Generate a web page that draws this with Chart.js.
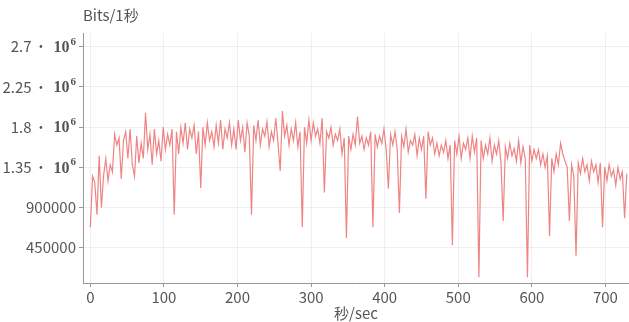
<!DOCTYPE html>
<html><head><meta charset="utf-8">
<script src="https://cdn.jsdelivr.net/npm/chart.js@4/dist/chart.umd.min.js"></script>
<style>html,body{margin:0;padding:0;background:#fff}#wrap{width:629px;height:322px;position:relative}</style>
</head><body><div id="wrap"><canvas id="c"></canvas></div>
<script>
const seconds = [0,3,6,9,12,15,18,21,24,27,30,33,36,39,42,45,48,51,54,57,60,63,66,69,72,75,78,81,84,87,90,93,96,99,102,105,108,111,114,117,120,123,126,129,132,135,138,141,144,147,150,153,156,159,162,165,168,171,174,177,180,183,186,189,192,195,198,201,204,207,210,213,216,219,222,225,228,231,234,237,240,243,246,249,252,255,258,261,264,267,270,273,276,279,282,285,288,291,294,297,300,303,306,309,312,315,318,321,324,327,330,333,336,339,342,345,348,351,354,357,360,363,366,369,372,375,378,381,384,387,390,393,396,399,402,405,408,411,414,417,420,423,426,429,432,435,438,441,444,447,450,453,456,459,462,465,468,471,474,477,480,483,486,489,492,495,498,501,504,507,510,513,516,519,522,525,528,531,534,537,540,543,546,549,552,555,558,561,564,567,570,573,576,579,582,585,588,591,594,597,600,603,606,609,612,615,618,621,624,627,630,633,636,639,642,645,648,651,654,657,660,663,666,669,672,675,678,681,684,687,690,693,696,699,702,705,708,711,714,717,720,723,726,729];
const bits = [680000,1250000,1180000,820000,1480000,900000,1260000,1450000,1200000,1380000,1300000,1720000,1600000,1680000,1220000,1650000,1750000,1450000,1780000,1380000,1250000,1700000,1400000,1620000,1450000,1960000,1550000,1720000,1380000,1780000,1500000,1650000,1420000,1800000,1550000,1720000,1600000,1780000,820000,1750000,1500000,1800000,1620000,1850000,1550000,1780000,1680000,1820000,1500000,1750000,1120000,1800000,1600000,1850000,1650000,1750000,1580000,1820000,1620000,1880000,1550000,1780000,1680000,1850000,1600000,1780000,1550000,1880000,1650000,1800000,1520000,1850000,1700000,820000,1820000,1650000,1880000,1600000,1780000,1700000,1860000,1580000,1750000,1650000,1900000,1620000,1310000,1980000,1700000,1820000,1600000,1780000,1650000,1850000,1580000,1750000,680000,1800000,1620000,1880000,1650000,1850000,1700000,1780000,1620000,1900000,1070000,1750000,1680000,1800000,1600000,1720000,1650000,1780000,1500000,1680000,560000,1700000,1550000,1720000,1600000,1920000,1620000,1700000,1550000,1680000,1600000,1750000,680000,1720000,1580000,1700000,1620000,1780000,1550000,1110000,1720000,1600000,1750000,1550000,840000,1700000,1580000,1780000,1520000,1650000,1600000,1720000,1480000,1680000,1550000,1700000,1000000,1750000,1600000,1680000,1500000,1620000,1480000,1600000,1520000,1650000,1450000,1600000,480000,1650000,1500000,1700000,1450000,1620000,1550000,1680000,1450000,1700000,1520000,1680000,120000,1650000,1450000,1600000,1500000,1680000,1420000,1600000,1500000,1650000,1400000,750000,1580000,1450000,1620000,1480000,1560000,1420000,1650000,1400000,1580000,1450000,120000,1600000,1420000,1550000,1450000,1550000,1380000,1500000,1350000,1480000,580000,1450000,1300000,1500000,1380000,1620000,1500000,1420000,1350000,750000,1380000,1250000,360000,1400000,1280000,1450000,1300000,1380000,1200000,1420000,1300000,1380000,1180000,1400000,680000,1350000,1200000,1380000,1250000,1320000,1150000,1350000,1220000,1300000,780000,1280000];
const yTicks = [450000, 900000, 1350000, 1800000, 2250000, 2700000];
const yTickMantissa = ['450000', '900000', '1.35', '1.8', '2.25', '2.7'];
const yTickHasPower = [false, false, true, true, true, true];
const xTicks = [0, 100, 200, 300, 400, 500, 600, 700];
const yTitle = 'Bits/1秒';
const xTitle = '秒/sec';

const FONT = "'Noto Sans CJK JP', 'Noto Sans', sans-serif";
const SERIF_B = "'Liberation Serif', serif";
const TXT = '#555';
const points = seconds.map((s, i) => ({x: s, y: bits[i]}));

const labelPlugin = {
  id: 'labels',
  afterDraw(chart) {
    const ctx = chart.ctx;
    const ys = chart.scales.y;
    ctx.save();
    ctx.fillStyle = TXT;
    ctx.textBaseline = 'middle';
    ctx.textAlign = 'left';
    ctx.font = "15px " + FONT;
    ctx.fillText(yTitle, chart.chartArea.left, 15);
    const right = chart.chartArea.left - 7;
    yTicks.forEach((v, i) => {
      const y = ys.getPixelForValue(v);
      if (!yTickHasPower[i]) {
        ctx.font = "15px " + FONT;
        ctx.textAlign = 'right';
        ctx.fillText(yTickMantissa[i], right, y);
        return;
      }
      ctx.textAlign = 'left';
      ctx.font = "15px " + FONT;
      const w1 = ctx.measureText(yTickMantissa[i]).width;
      ctx.font = "bold 15px " + FONT;
      const wd = ctx.measureText('·').width;
      ctx.font = "bold 16px " + SERIF_B;
      const w2 = ctx.measureText('10').width;
      ctx.font = "bold 11px " + SERIF_B;
      const w3 = ctx.measureText('6').width;
      const g1 = 5, g2 = 8;
      let x = right - (w1 + g1 + wd + g2 + w2 + w3 + 1);
      ctx.font = "15px " + FONT;
      ctx.fillText(yTickMantissa[i], x, y);
      x += w1 + g1;
      ctx.font = "bold 15px " + FONT;
      ctx.fillText('·', x, y);
      x += wd + g2;
      ctx.font = "bold 16px " + SERIF_B;
      ctx.fillText('10', x, y + 1);
      x += w2 + 1;
      ctx.font = "bold 11px " + SERIF_B;
      ctx.fillText('6', x, y - 5);
    });
    ctx.restore();
  }
};

new Chart(document.getElementById('c'), {
  type: 'line',
  data: { datasets: [{
    data: points,
    borderColor: 'rgba(236,110,110,0.85)',
    borderWidth: 1.2,
    pointRadius: 0,
    tension: 0,
    fill: false
  }]},
  options: {
    responsive: true,
    maintainAspectRatio: false,
    animation: false,
    layout: { padding: { top: 33, right: 0, left: 0, bottom: 0 } },
    plugins: { legend: { display: false }, tooltip: { enabled: false } },
    scales: {
      x: {
        type: 'linear',
        min: -10, max: 732,
        afterBuildTicks: s => { s.ticks = xTicks.map(v => ({value: v})); },
        afterFit: s => { s.height = 39; },
        ticks: { color: TXT, font: { family: FONT, size: 15 }, padding: 1, maxRotation: 0 },
        grid: { color: 'rgba(0,0,0,0.06)', tickLength: 4, tickColor: '#999' },
        border: { color: '#999' },
        title: { display: true, text: xTitle, color: TXT, font: { family: FONT, size: 15 }, padding: { top: -3, bottom: 0 } }
      },
      y: {
        min: 56000, max: 2854000,
        afterBuildTicks: s => { s.ticks = yTicks.map(v => ({value: v})); },
        afterFit: s => { s.width = 83; },
        ticks: { display: false },
        grid: { color: 'rgba(0,0,0,0.06)', tickLength: 4, tickColor: '#999' },
        border: { color: '#999' }
      }
    }
  },
  plugins: [labelPlugin]
});
</script>
</body></html>
